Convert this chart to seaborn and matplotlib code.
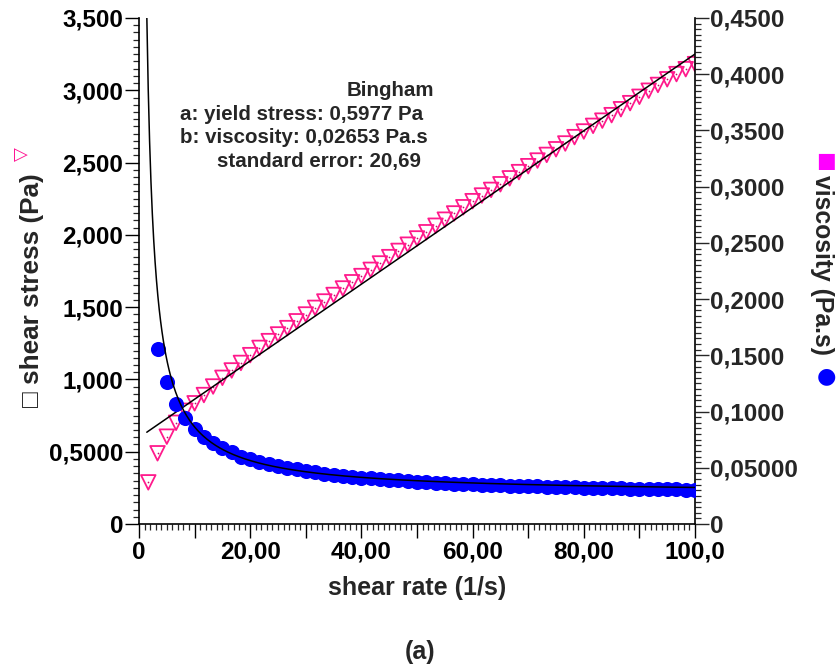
import numpy as np
import pandas as pd
import matplotlib
matplotlib.use("Agg")
import matplotlib.pyplot as plt
from matplotlib.ticker import MultipleLocator
import seaborn as sns

# ---------------- data ----------------
shear_rate_stress = [1.67, 3.33, 5.00, 6.67, 8.33, 10.00, 11.67, 13.33, 15.00, 16.67,
                     18.33, 20.00, 21.67, 23.33, 25.00, 26.67, 28.33, 30.00, 31.67, 33.33,
                     35.00, 36.67, 38.33, 40.00, 41.67, 43.33, 45.00, 46.67, 48.33, 50.00,
                     51.67, 53.33, 55.00, 56.67, 58.33, 60.00, 61.67, 63.33, 65.00, 66.67,
                     68.33, 70.00, 71.67, 73.33, 75.00, 76.67, 78.33, 80.00, 81.67, 83.33,
                     85.00, 86.67, 88.33, 90.00, 91.67, 93.33, 95.00, 96.67, 98.33, 100.00]
shear_stress = [0.288, 0.489, 0.604, 0.700, 0.783, 0.835, 0.892, 0.951, 1.011, 1.062,
                1.114, 1.168, 1.218, 1.265, 1.311, 1.355, 1.402, 1.449, 1.495, 1.539,
                1.584, 1.629, 1.672, 1.715, 1.758, 1.802, 1.846, 1.889, 1.932, 1.975,
                2.018, 2.063, 2.105, 2.148, 2.191, 2.233, 2.272, 2.311, 2.350, 2.391,
                2.434, 2.475, 2.514, 2.553, 2.592, 2.632, 2.676, 2.715, 2.754, 2.790,
                2.828, 2.869, 2.911, 2.955, 2.997, 3.037, 3.076, 3.112, 3.146, 3.181]

shear_rate_visc = [3.33, 5.00, 6.67, 8.33, 10.00, 11.67, 13.33, 15.00, 16.67,
                   18.33, 20.00, 21.67, 23.33, 25.00, 26.67, 28.33, 30.00, 31.67, 33.33,
                   35.00, 36.67, 38.33, 40.00, 41.67, 43.33, 45.00, 46.67, 48.33, 50.00,
                   51.67, 53.33, 55.00, 56.67, 58.33, 60.00, 61.67, 63.33, 65.00, 66.67,
                   68.33, 70.00, 71.67, 73.33, 75.00, 76.67, 78.33, 80.00, 81.67, 83.33,
                   85.00, 86.67, 88.33, 90.00, 91.67, 93.33, 95.00, 96.67, 98.33, 100.00]
viscosity = [0.1556, 0.1266, 0.1064, 0.0945, 0.0842, 0.0776, 0.0723, 0.0680, 0.0640,
             0.0600, 0.0575, 0.0555, 0.0533, 0.0515, 0.0500, 0.0486, 0.0473, 0.0460, 0.0449,
             0.0439, 0.0430, 0.0421, 0.0413, 0.0406, 0.0399, 0.0393, 0.0387, 0.0381, 0.0376,
             0.0371, 0.0366, 0.0362, 0.0358, 0.0355, 0.0352, 0.0349, 0.0346, 0.0343, 0.0340,
             0.0338, 0.0336, 0.0334, 0.0332, 0.0330, 0.0328, 0.0326, 0.0324, 0.0322, 0.0320,
             0.0318, 0.0317, 0.0315, 0.0314, 0.0312, 0.0311, 0.0309, 0.0308, 0.0306, 0.0304]

# Bingham fit parameters shown on the chart
yield_stress = 0.5977
bingham_visc = 0.02653

x_ticks = [0, 10, 20, 30, 40, 50, 60, 70, 80, 90, 100]
x_labels = ["0", "", "20,00", "", "40,00", "", "60,00", "", "80,00", "", "100,0"]
left_ticks = [0, 0.5, 1.0, 1.5, 2.0, 2.5, 3.0, 3.5]
left_labels = ["0", "0,5000", "1,000", "1,500", "2,000", "2,500", "3,000", "3,500"]
right_ticks = [0, 0.05, 0.10, 0.15, 0.20, 0.25, 0.30, 0.35, 0.40, 0.45]
right_labels = ["0", "0,05000", "0,1000", "0,1500", "0,2000", "0,2500",
                "0,3000", "0,3500", "0,4000", "0,4500"]

# ---------------- style ----------------
sns.set_style("white")
plt.rcParams["font.family"] = ["Liberation Sans", "DejaVu Sans"]
plt.rcParams["font.weight"] = "bold"

PINK = "#FF1A8C"
BLUE = "#0000FF"
FS = 17.5

fig = plt.figure(figsize=(8.4, 6.69), dpi=100)
W, H = 840, 669
ax = fig.add_axes([139 / W, (H - 524) / H, (695 - 139) / W, (524 - 18) / H])
ax2 = ax.twinx()
ax.set_facecolor("none")
ax2.set_facecolor("none")

df_s = pd.DataFrame({"rate": shear_rate_stress, "stress": shear_stress})
df_v = pd.DataFrame({"rate": shear_rate_visc, "visc": viscosity})

# shear stress (open down-triangles)
sns.scatterplot(data=df_s, x="rate", y="stress", ax=ax, marker="v", s=110,
                color=PINK, linewidth=1.3, zorder=3, legend=False)
coll = ax.collections[-1]
coll.set_facecolor("none")
coll.set_edgecolor(PINK)
sns.scatterplot(data=df_s, x="rate", y="stress", ax=ax, marker="o", s=1.5,
                color="#C0106A", linewidth=0, zorder=3, legend=False)

# Bingham fit for stress
fit_x = [1.4, 100.0]
df_fit = pd.DataFrame({"rate": fit_x,
                       "stress": [yield_stress + bingham_visc * v for v in fit_x]})
sns.lineplot(data=df_fit, x="rate", y="stress", ax=ax, color="black",
             linewidth=1.1, estimator=None, sort=False, zorder=4)

# viscosity (filled circles) on the right axis
sns.scatterplot(data=df_v, x="rate", y="visc", ax=ax2, marker="o", s=118,
                color=BLUE, linewidth=0, zorder=3, legend=False)
x0 = yield_stress / (0.45 - bingham_visc)
curve_x = np.linspace(x0, 100, 400)
df_curve = pd.DataFrame({"rate": curve_x, "visc": yield_stress / curve_x + bingham_visc})
sns.lineplot(data=df_curve, x="rate", y="visc", ax=ax2, color="black",
             linewidth=1.1, estimator=None, sort=False, zorder=4)

# ---------------- axes ----------------
ax.set_xlim(0, 100)
ax.set_ylim(0, 3.5)
ax2.set_ylim(0, 0.45)
ax.set_xlabel("")
ax.set_ylabel("")
ax2.set_ylabel("")

ax.set_xticks(x_ticks, x_labels)
ax.set_yticks(left_ticks, left_labels)
ax2.set_yticks(right_ticks, right_labels)
ax.xaxis.set_minor_locator(MultipleLocator(1))
ax.yaxis.set_minor_locator(MultipleLocator(0.05))
ax2.yaxis.set_minor_locator(MultipleLocator(0.005))

for a in (ax, ax2):
    for s in a.spines.values():
        s.set_linewidth(1.2)
        s.set_color("black")
    a.spines["top"].set_visible(False)
ax.spines["right"].set_visible(False)
ax2.spines["left"].set_visible(False)
ax2.spines["bottom"].set_visible(False)

ax.tick_params(axis="both", which="major", direction="out", length=10, width=1.0,
               labelsize=FS, pad=1.5, colors="black", left=True, bottom=True)
ax.tick_params(axis="both", which="minor", direction="out", length=4, width=0.9,
               left=True, bottom=True)
ax.tick_params(axis="x", which="major", pad=2)
ax2.tick_params(axis="y", which="major", direction="out", length=10, width=1.0,
                labelsize=FS, pad=1.0, right=True)
ax2.tick_params(axis="y", which="minor", direction="out", length=4, width=0.9, right=True)
for lab in ax.get_xticklabels() + ax.get_yticklabels() + ax2.get_yticklabels():
    lab.set_fontweight("bold")
ax.grid(False)
ax2.grid(False)

# ---------------- texts ----------------
def fx(px):
    return px / W

def fy(py):
    return (H - py) / H

fig.text(fx(417), fy(588), "shear rate (1/s)", ha="center", va="center",
         fontsize=18, fontweight="bold")
fig.text(fx(420), fy(652), "(a)", ha="center", va="center",
         fontsize=18, fontweight="bold")

fig.text(fx(32), fy(290), "\u25a1 shear stress (Pa)", rotation=90, ha="center",
         va="center", fontsize=18.8, fontweight="bold")
fig.text(fx(21), fy(154), "\u25bd", rotation=90, ha="center", va="center",
         fontsize=13, color="#FF1493", family=["DejaVu Sans"])

fig.text(fx(822), fy(265), "viscosity (Pa.s)", rotation=-90, ha="center",
         va="center", fontsize=17.8, fontweight="bold")
fig.text(fx(826), fy(161), "\u25a0", ha="center", va="center",
         fontsize=15, color="#FF00FF", family=["DejaVu Sans"])
fig.text(fx(826), fy(376), "\u25cf", ha="center", va="center",
         fontsize=16, color=BLUE, family=["DejaVu Sans"])

ann = [("Bingham", 347, 96),
       ("a: yield stress: 0,5977 Pa", 180, 120),
       ("b: viscosity: 0,02653 Pa.s", 180, 143),
       ("standard error: 20,69", 217, 166.5)]
for txt, px, py in ann:
    fig.text(fx(px), fy(py), txt, ha="left", va="baseline", fontsize=14.8,
             fontweight="bold")

fig.savefig("out.png", dpi=100, facecolor="white")
